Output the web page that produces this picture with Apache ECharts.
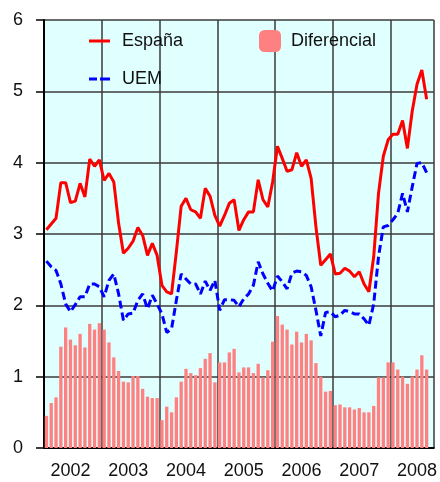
<!DOCTYPE html>
<html>
<head>
<meta charset="utf-8">
<script src="https://cdn.jsdelivr.net/npm/echarts@6/dist/echarts.min.js"></script>
<style>
	html, body { margin: 0; padding: 0; background: #ffffff; }
	#tipos { width: 440px; height: 482px; }
</style>
</head>
<body>
<div id="tipos"></div>
<script>
// años y meses del eje (ene 2002 - sep 2008)
const years = ["2002", "2003", "2004", "2005", "2006", "2007", "2008"];
const monthsShown = 81;

// tipo España (%)
const espana = [
	3.06, 3.14, 3.22, 3.72, 3.72, 3.44, 3.46, 3.71, 3.52, 4.05, 3.95, 4.04,
	3.75, 3.85, 3.73, 3.15, 2.73, 2.80, 2.90, 3.09, 2.98, 2.70, 2.87, 2.70,
	2.28, 2.19, 2.16, 2.75, 3.39, 3.50, 3.34, 3.31, 3.22, 3.64, 3.53, 3.26,
	3.11, 3.26, 3.43, 3.48, 3.05, 3.20, 3.31, 3.31, 3.76, 3.48, 3.38, 3.73,
	4.23, 4.06, 3.88, 3.90, 4.14, 3.95, 4.04, 3.78, 3.10, 2.56, 2.64, 2.72,
	2.44, 2.45, 2.52, 2.48, 2.40, 2.47, 2.30, 2.19, 2.68, 3.57, 4.09, 4.32,
	4.40, 4.40, 4.59, 4.20, 4.72, 5.10, 5.30, 4.89
];

// tipo UEM (%)
const uem = [
	2.62, 2.54, 2.49, 2.30, 2.02, 1.91, 2.01, 2.12, 2.12, 2.30, 2.30, 2.26,
	2.12, 2.35, 2.44, 2.16, 1.79, 1.88, 1.89, 2.07, 2.16, 1.95, 2.14, 2.02,
	1.88, 1.62, 1.67, 2.07, 2.44, 2.37, 2.30, 2.30, 2.16, 2.34, 2.21, 2.35,
	1.93, 2.08, 2.08, 2.07, 1.98, 2.09, 2.16, 2.28, 2.61, 2.44, 2.31, 2.20,
	2.41, 2.33, 2.23, 2.45, 2.48, 2.47, 2.42, 2.26, 1.93, 1.57, 1.90, 1.91,
	1.84, 1.86, 1.93, 1.91, 1.88, 1.88, 1.81, 1.72, 2.02, 2.68, 3.10, 3.12,
	3.20, 3.29, 3.57, 3.31, 3.66, 3.99, 4.00, 3.86
];

// diferencial España - UEM
const diferencial = [
	0.45, 0.63, 0.71, 1.42, 1.69, 1.52, 1.44, 1.60, 1.41, 1.74, 1.66, 1.75,
	1.66, 1.48, 1.27, 1.08, 0.93, 0.92, 1.01, 1.01, 0.83, 0.72, 0.70, 0.70,
	0.39, 0.58, 0.50, 0.71, 0.93, 1.11, 1.05, 1.02, 1.12, 1.25, 1.33, 0.92,
	1.20, 1.20, 1.34, 1.39, 1.06, 1.13, 1.13, 1.05, 1.18, 0.99, 1.09, 1.49,
	1.85, 1.73, 1.66, 1.45, 1.63, 1.48, 1.60, 1.51, 1.19, 1.00, 0.79, 0.80,
	0.60, 0.61, 0.57, 0.57, 0.54, 0.56, 0.50, 0.50, 0.59, 0.99, 0.99, 1.20,
	1.20, 1.10, 1.00, 0.90, 1.00, 1.10, 1.30, 1.10
];

const yTicks = [0, 1, 2, 3, 4, 5, 6];

function tiposChart() {
	let dom = document.getElementById("tipos");
	let myChart = echarts.init(dom, null, { renderer: "canvas" });

	// categorías mensuales "2002-01" ...
	let months = [];
	for (let y = 0; y < years.length; y++) {
		for (let m = 1; m <= 12; m++) {
			if (months.length < monthsShown) {
				months.push(years[y] + "-" + (m < 10 ? "0" + m : m));
			}
		}
	}

	let font = "Liberation Sans, Arial, sans-serif";

	let option = {
		animation: false,
		backgroundColor: "#ffffff",
		textStyle: { fontFamily: font },
		legend: [
			{
				data: [
					{ name: "España", icon: "rect" },
					// icono de trazos para la UEM
					{ name: "UEM", icon: "path://M0,0h8v3h-8z M11,0h10v3h-10z" },
				],
				orient: "vertical",
				left: 89,
				top: 32,
				padding: 0,
				itemWidth: 21,
				itemHeight: 3,
				itemGap: 20,
				textStyle: { fontSize: 18, color: "#111", fontFamily: font, padding: [0, 0, 0, 7] },
			},
			{
				data: ["Diferencial"],
				left: 259,
				top: 30,
				padding: 0,
				itemWidth: 22,
				itemHeight: 22,
				textStyle: { fontSize: 18, color: "#111", fontFamily: font, padding: [0, 0, 0, 5] },
			},
		],
		grid: {
			left: 44,
			right: 0,
			top: 20,
			bottom: 34,
			show: true,
			backgroundColor: "#e0ffff",
			borderWidth: 0,
		},
		xAxis: {
			type: "category",
			data: months,
			boundaryGap: true,
			axisLine: { lineStyle: { color: "#000", width: 2 } },
			axisTick: { show: false },
			axisLabel: {
				interval: function (index) {
					return index % 12 === 5; // año centrado en junio
				},
				formatter: function (value) {
					return value.slice(0, 4);
				},
				fontSize: 18,
				color: "#111",
				margin: 14,
			},
			splitLine: {
				show: true,
				interval: function (index) {
					return index % 12 === 0 && index > 0;
				},
				lineStyle: { color: "#3a3a3a", width: 1.5 },
			},
		},
		yAxis: {
			type: "value",
			min: yTicks[0],
			max: yTicks[yTicks.length - 1],
			interval: 1,
			axisLine: { show: true, lineStyle: { color: "#000", width: 2 } },
			axisTick: { show: true, inside: false, length: 8, lineStyle: { color: "#000", width: 1.5 } },
			axisLabel: { fontSize: 18, color: "#111", margin: 21 },
			splitLine: { show: true, lineStyle: { color: "#3a3a3a", width: 1.5 } },
		},
		series: [
			{
				name: "Diferencial",
				type: "bar",
				data: diferencial,
				barWidth: 3.3,
				itemStyle: { color: "#ff8080" },
				z: 1,
			},
			{
				name: "España",
				type: "line",
				data: espana,
				symbol: "none",
				lineStyle: { color: "#ff0000", width: 3 },
				itemStyle: { color: "#ff0000" },
				z: 3,
			},
			{
				name: "UEM",
				type: "line",
				data: uem,
				symbol: "none",
				lineStyle: { color: "#0000ff", width: 3, type: [8, 4] },
				itemStyle: { color: "#0000ff" },
				z: 2,
			},
		],
	};

	myChart.setOption(option);
	window.addEventListener("resize", myChart.resize);
}

(function init() {
	tiposChart();
})();
</script>
</body>
</html>
